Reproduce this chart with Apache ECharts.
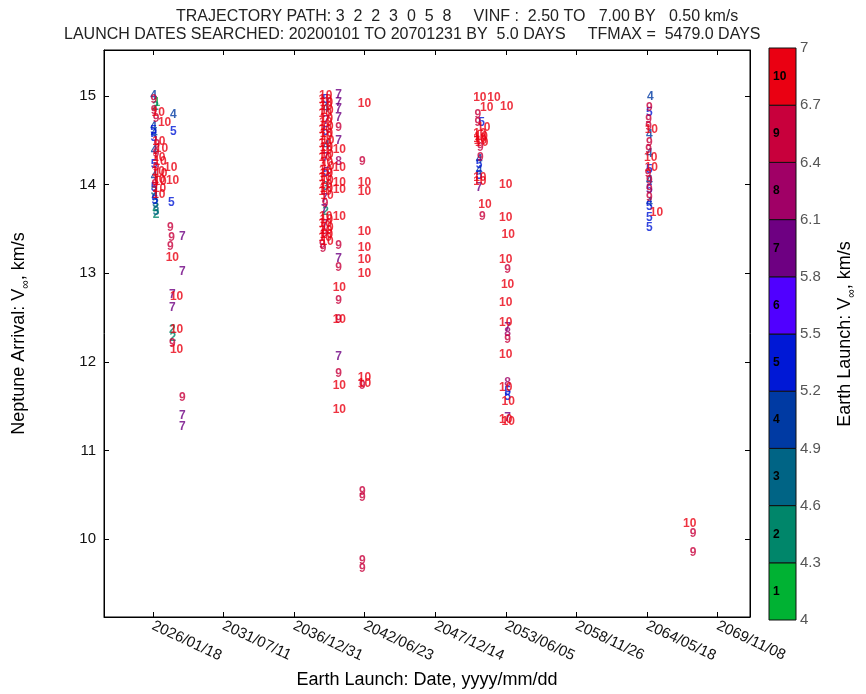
<!DOCTYPE html>
<html><head><meta charset="utf-8">
<script src="https://cdn.jsdelivr.net/npm/echarts@6/dist/echarts.min.js"></script>
<style>html,body{margin:0;padding:0;background:#fff}#c{width:866px;height:694px}</style>
</head><body><div id="c"></div>
<script>
// ---- data: [launch (decimal year), Neptune arrival Vinf km/s, Earth-launch Vinf level 1..10]
const cluster2026 = [
  [2025.85,15.00,4],[2025.88,14.96,9],[2026.10,14.92,1],[2026.00,14.88,2],[2025.90,14.84,9],
  [2025.95,14.81,10],[2026.45,14.70,10],[2026.05,14.74,9],[2025.85,14.66,4],[2025.85,14.61,5],
  [2025.90,14.57,4],[2025.88,14.53,5],[2026.00,14.48,10],[2026.10,14.45,9],[2026.20,14.41,10],
  [2025.90,14.38,4],[2026.05,14.35,9],[2026.00,14.30,10],[2026.10,14.26,10],[2025.90,14.22,5],
  [2026.05,14.19,9],[2025.95,14.15,10],[2026.15,14.12,10],[2025.90,14.09,4],[2026.00,14.06,10],
  [2026.10,14.03,10],[2025.95,14.00,9],[2025.90,13.97,5],[2026.05,13.95,10],[2025.90,13.92,3],
  [2026.00,13.89,10],[2025.95,13.86,4],[2025.95,13.82,5],[2026.00,13.78,3],[2026.00,13.74,2],
  [2026.05,13.70,3],[2026.05,13.66,2],
  [2027.38,14.79,4],[2027.38,14.60,5],[2026.92,14.19,10],[2027.07,14.04,10],[2027.23,13.80,5],
  [2027.15,13.51,9],[2027.25,13.40,9],[2028.08,13.41,7],[2027.15,13.30,9],[2027.05,13.18,10],
  [2028.08,13.02,7],[2027.30,12.76,7],[2027.38,12.74,10],[2027.30,12.61,7],[2027.38,12.36,10],
  [2027.30,12.36,2],[2027.35,12.27,2],[2027.30,12.20,9],[2027.38,12.14,10],
  [2028.08,11.59,9],[2028.08,11.39,7],[2028.08,11.27,7]
];
const cluster2039 = [
  [2038.95,15.00,10],[2038.90,14.96,10],[2039.00,14.92,10],[2038.95,14.88,10],[2039.05,14.84,10],
  [2038.90,14.80,10],[2039.00,14.75,10],[2038.95,14.70,10],[2039.05,14.66,10],[2038.90,14.62,10],
  [2039.00,14.58,10],[2038.95,14.54,10],[2039.10,14.50,10],[2038.90,14.46,10],[2039.00,14.42,10],
  [2038.95,14.38,10],[2039.05,14.34,10],[2038.90,14.30,10],[2039.00,14.25,10],[2039.10,14.20,10],
  [2038.95,14.16,10],[2039.00,14.12,10],[2038.90,14.08,10],[2039.05,14.04,10],[2038.95,14.00,10],
  [2039.00,13.96,10],[2038.90,13.92,10],[2039.05,13.88,10],[2038.95,13.64,10],[2039.00,13.60,10],
  [2038.90,13.56,10],[2039.05,13.52,10],[2038.95,13.48,10],[2039.00,13.44,10],[2038.90,13.40,10],
  [2039.05,13.36,10],[2038.95,13.32,9],[2039.00,13.28,9],
  [2039.20,14.96,5],[2039.20,14.86,4],[2039.25,14.72,7],[2039.20,14.60,5],[2039.25,14.44,4],
  [2039.20,14.30,7],[2039.25,14.14,5],[2039.20,13.98,3],[2039.10,13.84,7],[2039.15,13.78,9],
  [2039.10,13.72,7],[2039.20,13.70,2],[2039.15,13.55,7],[2039.10,13.45,9],
  [2040.20,15.01,7],[2040.20,14.92,7],[2040.20,14.86,7],[2040.20,14.76,7],[2041.95,14.91,10],
  [2040.20,14.64,9],[2040.20,14.50,7],[2040.00,14.39,10],[2040.20,14.26,8],[2042.05,14.26,9],
  [2040.00,14.19,10],[2040.00,14.02,10],[2040.00,13.94,10],[2041.95,14.02,10],[2041.95,13.92,10],
  [2040.00,13.64,10],[2041.95,13.47,10],[2041.95,13.29,10],[2041.95,13.15,10],[2041.95,13.00,10],
  [2040.20,13.31,9],[2040.20,13.17,7],[2040.20,13.06,9],[2040.00,12.84,10],[2040.20,12.69,9],
  [2040.00,12.48,10],[2040.20,12.48,9],[2040.20,12.06,7],[2040.20,11.87,9],[2040.00,11.73,10],
  [2040.00,11.46,10],[2041.95,11.82,10],[2041.95,11.75,10],[2042.05,11.73,9],
  [2042.05,10.54,9],[2042.05,10.47,9],[2042.05,9.75,9],[2042.05,9.66,9]
];
const cluster2051 = [
  [2050.90,14.98,10],[2052.00,14.98,10],[2051.43,14.87,10],[2052.98,14.88,10],[2051.00,14.79,9],
  [2051.30,14.70,5],[2051.00,14.70,9],[2051.20,14.64,10],[2050.90,14.58,10],[2051.00,14.54,10],
  [2050.95,14.50,10],[2051.05,14.47,10],[2050.90,14.52,10],[2051.20,14.42,9],[2051.20,14.31,9],
  [2051.10,14.28,4],[2051.10,14.22,5],[2051.10,14.16,4],[2051.10,14.10,5],[2050.90,14.08,10],
  [2050.90,14.03,10],[2051.10,13.97,7],[2052.90,14.00,10],[2051.30,13.77,10],[2051.35,13.64,9],
  [2052.90,13.63,10],[2053.10,13.43,10],[2052.90,13.15,10],[2053.30,13.04,9],[2053.05,12.87,10],
  [2052.90,12.67,10],[2052.90,12.44,10],[2053.30,12.39,7],[2053.30,12.33,8],[2053.30,12.25,9],
  [2052.90,12.08,10],[2053.30,11.77,8],[2052.90,11.71,10],[2053.30,11.66,5],[2053.30,11.61,5],
  [2053.10,11.55,10],[2053.30,11.37,7],[2052.90,11.35,10],[2053.10,11.32,10]
];
const cluster2064 = [
  [2064.38,14.99,4],[2064.30,14.87,9],[2064.30,14.81,5],[2064.25,14.73,9],[2064.25,14.66,9],
  [2064.20,14.62,10],[2064.30,14.56,4],[2064.30,14.47,9],[2064.25,14.39,9],[2064.30,14.35,4],
  [2064.15,14.30,10],[2064.20,14.19,10],[2064.30,14.17,5],[2064.20,14.12,9],[2064.30,14.05,9],
  [2064.30,14.05,4],[2064.30,13.94,9],[2064.30,13.94,5],[2064.30,13.85,9],[2064.30,13.80,4],
  [2064.30,13.75,5],[2064.60,13.68,10],[2064.30,13.63,5],[2064.30,13.52,5]
];
const cluster2067 = [[2067.18,10.17,10],[2067.70,10.06,9],[2067.70,9.85,9]];

const levelColors = ['#00b233','#00866a','#006485','#003aa3','#0018d6','#5000ff','#6e0082','#a00066','#c8003c','#ea0012'];
const colorbarEdges = [4,4.3,4.6,4.9,5.2,5.5,5.8,6.1,6.4,6.7,7];
const xTickLabels = ['2026/01/18','2031/07/11','2036/12/31','2042/06/23','2047/12/14','2053/06/05','2058/11/26','2064/05/18','2069/11/08'];
const yTicks = [10,11,12,13,14,15];
const xLimitDates = ['2022/04/08','2072/05/15'];
const yLimits = [9.12,15.52];

// ---- helpers
const EPOCH = 719529; // MATLAB datenum of 1970-01-01
function dateStrToNum(s){const p=s.split('/').map(Number);return Date.UTC(p[0],p[1]-1,p[2])/864e5+EPOCH;}
function yearToNum(y){const Y=Math.floor(y);const a=Date.UTC(Y,0,1)/864e5,b=Date.UTC(Y+1,0,1)/864e5;return a+(y-Y)*(b-a)+EPOCH;}
function numToStr(v){const d=new Date(Math.round(v-EPOCH)*864e5);const p=n=>String(n).padStart(2,'0');return d.getUTCFullYear()+'/'+p(d.getUTCMonth()+1)+'/'+p(d.getUTCDate());}
const xTickVals = xTickLabels.map(dateStrToNum);
const FONT = 'Liberation Sans';

const allPts = [].concat(cluster2026,cluster2039,cluster2051,cluster2064,cluster2067)
  .map((p,i)=>({p,i})).sort((a,b)=>a.p[2]-b.p[2]||a.i-b.i).map(o=>o.p);
const scatterData = allPts.map(p=>({value:[yearToNum(p[0]),p[1],p[2]],label:{color:levelColors[p[2]-1]}}));

const cbData = levelColors.map((c,i)=>[colorbarEdges[i],colorbarEdges[i+1],i+1]);

const chart = echarts.init(document.getElementById('c'),null,{renderer:'canvas'});
const sub = {fontSize:12,verticalAlign:'bottom',lineHeight:12,fontFamily:FONT,color:'#000'};
const nm = {fontSize:18,lineHeight:26,fontFamily:FONT,color:'#000'};
chart.setOption({
  animation:false,
  backgroundColor:'#fff',
  title:[
    {text:'TRAJECTORY PATH: 3  2  2  3  0  5  8     VINF :  2.50 TO   7.00 BY   0.50 km/s',left:176,top:9,padding:0,
     textStyle:{fontSize:16,fontWeight:'normal',color:'#222',fontFamily:FONT}},
    {text:'LAUNCH DATES SEARCHED: 20200101 TO 20701231 BY  5.0 DAYS     TFMAX =  5479.0 DAYS',left:64,top:27,padding:0,
     textStyle:{fontSize:16,fontWeight:'normal',color:'#222',fontFamily:FONT}}
  ],
  grid:[
    {left:104,top:50,width:646,height:568,show:true,borderColor:'#000',borderWidth:1,backgroundColor:'#fff'},
    {left:769,top:48,width:27,height:572}
  ],
  xAxis:[
    {gridIndex:0,type:'value',min:dateStrToNum(xLimitDates[0]),max:dateStrToNum(xLimitDates[1]),
     name:'Earth Launch: Date, yyyy/mm/dd',nameLocation:'middle',nameGap:54,
     nameTextStyle:{fontSize:18,fontFamily:FONT,color:'#000'},
     axisLine:{show:true,lineStyle:{color:'#000',width:1}},
     axisTick:{show:true,inside:true,length:5,customValues:xTickVals,lineStyle:{color:'#000'}},
     axisLabel:{customValues:xTickVals,formatter:v=>numToStr(v),rotate:-25,fontSize:15,fontFamily:FONT,color:'#111',margin:8},
     splitLine:{show:false}},
    {gridIndex:0,type:'value',position:'top',min:dateStrToNum(xLimitDates[0]),max:dateStrToNum(xLimitDates[1]),
     axisLine:{show:true,lineStyle:{color:'#000'}},
     axisTick:{show:true,inside:true,length:5,customValues:xTickVals,lineStyle:{color:'#000'}},
     axisLabel:{show:false},splitLine:{show:false}},
    {gridIndex:1,type:'value',min:0,max:1,show:false}
  ],
  yAxis:[
    {gridIndex:0,type:'value',min:yLimits[0],max:yLimits[1],
     name:'{a|Neptune Arrival: V}{s|∞}{a|, km/s}',nameLocation:'middle',nameGap:72,nameRotate:90,
     nameTextStyle:{rich:{a:nm,s:sub}},
     axisLine:{show:true,lineStyle:{color:'#000'}},
     axisTick:{show:true,inside:true,length:5,customValues:yTicks,lineStyle:{color:'#000'}},
     axisLabel:{customValues:yTicks,fontSize:15,fontFamily:FONT,color:'#111',margin:8},
     splitLine:{show:false}},
    {gridIndex:0,type:'value',position:'right',min:yLimits[0],max:yLimits[1],
     axisLine:{show:true,lineStyle:{color:'#000'}},
     axisTick:{show:true,inside:true,length:5,customValues:yTicks,lineStyle:{color:'#000'}},
     axisLabel:{show:false},splitLine:{show:false}},
    {gridIndex:1,type:'value',position:'right',min:colorbarEdges[0],max:colorbarEdges[colorbarEdges.length-1],
     name:'{a|Earth Launch: V}{s|∞}{a|, km/s}',nameLocation:'middle',nameGap:36,nameRotate:90,
     nameTextStyle:{rich:{a:nm,s:sub},verticalAlign:'top'},
     axisLine:{show:false},axisTick:{show:false},
     axisLabel:{customValues:colorbarEdges,formatter:v=>String(+v.toFixed(1)),fontSize:15,fontFamily:FONT,color:'#555',margin:4,verticalAlign:'middle'},
     splitLine:{show:false}}
  ],
  series:[
    {type:'scatter',xAxisIndex:0,yAxisIndex:0,symbolSize:1,itemStyle:{color:'rgba(0,0,0,0)'},
     data:scatterData,
     label:{show:true,position:'inside',align:'left',verticalAlign:'middle',formatter:p=>String(p.value[2]),
            fontSize:12,fontWeight:'bold',fontFamily:FONT},
     emphasis:{disabled:true}},
    {type:'custom',xAxisIndex:2,yAxisIndex:2,data:cbData,
     renderItem:function(params,api){
       const p0=api.coord([0,api.value(0)]),p1=api.coord([1,api.value(1)]);
       const lvl=api.value(2);
       return {type:'group',children:[
         {type:'rect',shape:{x:p0[0],y:p1[1],width:p1[0]-p0[0],height:p0[1]-p1[1]},
          style:{fill:levelColors[lvl-1],stroke:'#111',lineWidth:1}},
         {type:'text',style:{text:String(lvl),x:p0[0]+4,y:(p0[1]+p1[1])/2,verticalAlign:'middle',align:'left',
          font:'bold 12px "Liberation Sans"',fill:'#000'}}
       ]};
     }}
  ]
});
</script></body></html>
